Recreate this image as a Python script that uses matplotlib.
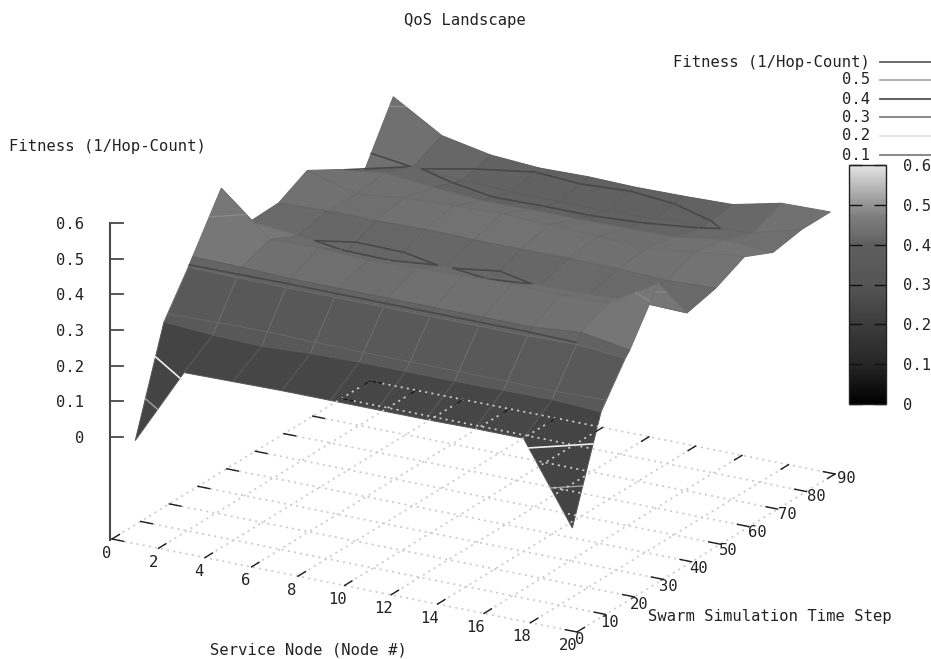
import numpy as np
import matplotlib
matplotlib.use("Agg")
import matplotlib.pyplot as plt
from matplotlib.colors import LinearSegmentedColormap, Normalize
from matplotlib.cm import ScalarMappable
from matplotlib.patches import Polygon

# ---- data ----
node = [1.0, 3.1, 5.2, 7.3, 9.4, 11.4, 13.5, 15.6, 17.7, 19.8]
step = [0, 10, 18.5, 20, 30, 40, 50, 60, 70, 80, 90]
row_0 = [0.0, .218, .220, .222, .222, .222, .222, .224, .224, 0.0]
row_10 = [.283, .274, .270, .277, .280, .280, .280, .282, .283, .276]
row_18 = [.395, .393, .392, .393, .393, .393, .393, .393, .396, .385]
row_20 = [.417, .415, .410, .410, .410, .410, .410, .410, .423, .400]
row_30 = [.560, .443, .448, .440, .446, .450, .455, .450, .457, .538]
row_40 = [.417, .405, .390, .390, .402, .390, .402, .405, .410, .406]
row_50 = [.420, .425, .425, .428, .426, .426, .428, .425, .420, .426]
row_60 = [.462, .423, .440, .445, .450, .445, .440, .434, .451, .465]
row_70 = [.415, .434, .420, .410, .412, .412, .414, .417, .436, .428]
row_80 = [.364, .402, .390, .385, .385, .385, .390, .397, .406, .443]
row_90 = [.521, .439, .412, .403, .406, .403, .405, .409, .440, .443]
surface_rows = [row_0, row_10, row_18, row_20, row_30, row_40, row_50,
                row_60, row_70, row_80, row_90]
x_ticks = list(range(0, 21, 2))
y_ticks = list(range(0, 91, 10))
z_ticks = [0, 0.1, 0.2, 0.3, 0.4, 0.5, 0.6]
z_tick_labels = ["0", "0.1", "0.2", "0.3", "0.4", "0.5", "0.6"]
contour_levels = [0.1, 0.2, 0.3, 0.4, 0.5]
contour_colors = ["#a0a0a0", "#f0f0f0", "#686868", "#484848", "#8c8c8c"]
contour_widths = [1.0, 1.2, 0.7, 1.2, 0.8]
legend_names = ["Fitness (1/Hop-Count)", "0.5", "0.4", "0.3", "0.2", "0.1"]
legend_colors = ["#606060", "#aaaaaa", "#505050", "#808080", "#e4e4e4", "#808080"]

# ---- page ----
W, H = 931, 659
FS = 11.2
plt.rcParams["font.family"] = "DejaVu Sans Mono"
fig = plt.figure(figsize=(W / 100, H / 100), dpi=100)
ax = fig.add_axes([0, 0, 1, 1])
ax.set_xlim(0, W)
ax.set_ylim(H, 0)
ax.axis("off")

Z_BASE = -0.289


def proj(x, y, z=Z_BASE):
    return (112 + 23.25 * x + 2.867 * y,
            539 + 4.65 * x - 1.756 * y - 356.7 * (z - Z_BASE))


def face_grey(m):
    return np.interp(m, [.10, .25, .34, .40, .43, .47, .55],
                     [64, 70, 90, 98, 112, 122, 132]) / 255


cmap = LinearSegmentedColormap.from_list(
    "qos", [(0, "#000000"), (1 / 6, "#262626"), (2 / 6, "#3c3c3c"), (3 / 6, "#555555"),
            (4 / 6, "#5e5e5e"), (0.715, "#6e6e6e"), (0.783, "#7c7c7c"),
            (5 / 6, "#939393"), (1, "#e4e4e4")])
norm = Normalize(0, 0.6)

# ---- surface: far to near, one flat cell at a time ----
Z = np.array(surface_rows)
X = np.array(node)
Y = np.array(step)
order = 10
for j in range(len(Y) - 2, -1, -1):
    for i in range(len(X) - 1):
        cx = [X[i], X[i + 1], X[i + 1], X[i]]
        cy = [Y[j], Y[j], Y[j + 1], Y[j + 1]]
        cz = [Z[j, i], Z[j, i + 1], Z[j + 1, i + 1], Z[j + 1, i]]
        m = float(np.mean(cz))
        f = float(face_grey(m))
        g = f + (0.07 if m < 0.38 else -0.025)
        corners = [proj(a, b, c) for a, b, c in zip(cx, cy, cz)]
        ax.add_patch(Polygon(corners, closed=True, facecolor=(f, f, f), zorder=order,
                             edgecolor=(g, g, g), linewidth=0.7))
        order += 1
        for lev, col, lw in zip(contour_levels, contour_colors, contour_widths):
            pts = []
            for k in range(4):
                n = (k + 1) % 4
                if (cz[k] - lev) * (cz[n] - lev) < 0:
                    t = (lev - cz[k]) / (cz[n] - cz[k])
                    pts.append(proj(cx[k] + t * (cx[n] - cx[k]),
                                    cy[k] + t * (cy[n] - cy[k]), lev))
            for a in range(0, len(pts) - 1, 2):
                ax.plot([pts[a][0], pts[a + 1][0]], [pts[a][1], pts[a + 1][1]],
                        color=col, lw=lw, zorder=order, solid_capstyle="round")
        order += 1

# ---- base grid, drawn over the surface ----
GRID = dict(color="#cccccc", lw=1.25, ls=(0, (1.2, 2.4)), zorder=order)
for xv in x_ticks:
    a, b = proj(xv, 0), proj(xv, 90)
    ax.plot([a[0], b[0]], [a[1], b[1]], **GRID)
for yv in y_ticks:
    a, b = proj(0, yv), proj(20, yv)
    ax.plot([a[0], b[0]], [a[1], b[1]], **GRID)
order += 1
TICK = dict(color="#1c1c1c", lw=1.0, zorder=order)
for xv in x_ticks:
    a, b = proj(xv, 0), proj(xv, 2.6)
    ax.plot([a[0], b[0]], [a[1], b[1]], **TICK)
    a, b = proj(xv, 90), proj(xv, 87.4)
    ax.plot([a[0], b[0]], [a[1], b[1]], **TICK)
    ax.text(107 + 23.05 * xv, 553 + 4.65 * xv, str(xv), fontsize=FS, color="#222222",
            ha="center", va="center", zorder=order)
for yv in y_ticks:
    a, b = proj(0, yv), proj(0.5, yv)
    ax.plot([a[0], b[0]], [a[1], b[1]], **TICK)
    a, b = proj(20, yv), proj(19.5, yv)
    ax.plot([a[0], b[0]], [a[1], b[1]], **TICK)
    ax.text(580 + 2.96 * yv, 640 - 1.79 * yv, str(yv), fontsize=FS, color="#222222",
            ha="center", va="center", zorder=order)

# ---- z axis ----
ax.plot([110, 110], [223, 540], color="#484848", lw=1.5, zorder=order)
for zv, lab in zip(z_ticks, z_tick_labels):
    py = 437 - zv * 356.7
    ax.plot([110, 123], [py, py], color="#484848", lw=1.3, zorder=order)
    ax.text(84, py + 1.5, lab, fontsize=FS, color="#222222", ha="right", va="center")

# ---- titles ----
TXT = dict(fontsize=FS, color="#222222", va="center")
ax.text(465, 20, "QoS Landscape", ha="center", **TXT)
ax.text(9, 146, "Fitness (1/Hop-Count)", ha="left", **TXT)
ax.text(308, 650, "Service Node (Node #)", ha="center", **TXT)
ax.text(770, 617, "Swarm Simulation Time Step", ha="center", **TXT)

# ---- contour key ----
for name, col, py in zip(legend_names, legend_colors, [62, 80, 99, 117, 136, 155]):
    ax.text(870, py, name, ha="right", **TXT)
    ax.plot([880, 931], [py, py], color=col, lw=1.3)

# ---- colour box ----
cax = fig.add_axes([849 / W, 1 - 404 / H, 37 / W, 239 / H])
cb = fig.colorbar(ScalarMappable(norm=norm, cmap=cmap), cax=cax, ticks=z_ticks)
cb.ax.set_yticklabels(z_tick_labels, fontsize=FS, color="#222222")
cb.ax.tick_params(which="both", direction="in", left=True, right=True, length=9,
                  width=1.0, color="#111111", pad=12)
cb.outline.set_linewidth(1.0)
cb.outline.set_edgecolor("#222222")

fig.savefig("out.png", dpi=100)
